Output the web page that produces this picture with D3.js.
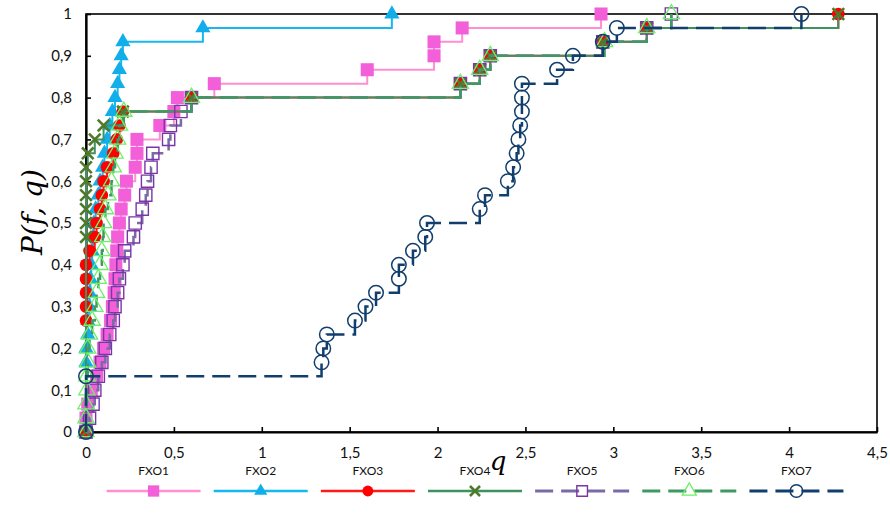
<!DOCTYPE html>
<html>
<head>
<meta charset="utf-8">
<script src="https://cdn.jsdelivr.net/npm/d3@7"></script>
<style>
  body { margin: 0; background: #fff; }
  svg { display: block; }
</style>
</head>
<body>
<svg id="chart" width="890" height="522"></svg>
<script>
// Performance profiles P(f, q) of seven solvers over 30 test problems.
const seriesNames = ["FXO1", "FXO2", "FXO3", "FXO4", "FXO5", "FXO6", "FXO7"];
const problemCount = 30;
const xTicks = [0, 0.5, 1, 1.5, 2, 2.5, 3, 3.5, 4, 4.5];
const yTicks = [0, 0.1, 0.2, 0.3, 0.4, 0.5, 0.6, 0.7, 0.8, 0.9, 1];

// Each point: [q, number of problems solved within factor q]
const fxo1 = [[0,0],[0,1],[0.01,2],[0.03,3],[0.06,4],[0.08,5],[0.10,6],[0.12,7],[0.14,8],[0.15,9],
  [0.16,10],[0.165,11],[0.17,12],[0.175,13],[0.18,14],[0.19,15],[0.20,16],[0.22,17],[0.23,18],[0.28,19],
  [0.29,20],[0.29,21],[0.42,22],[0.50,23],[0.52,24],[0.73,25],[1.60,26],[1.98,27],[1.98,28],[2.14,29],[2.93,30]];
const fxo2 = [[0,0],[0,5],[0,6],[0.01,7],[0.01,8],[0.02,9],[0.02,10],[0.025,11],[0.03,12],[0.035,13],
  [0.04,14],[0.045,15],[0.055,16],[0.07,17],[0.08,18],[0.095,19],[0.105,20],[0.12,21],[0.135,22],[0.15,23],
  [0.165,24],[0.18,25],[0.19,26],[0.20,27],[0.21,28],[0.665,29],[1.74,30]];
const fxo3 = [[0,0],[0,8],[0,9],[0,10],[0,11],[0,12],[0.02,13],[0.05,14],[0.06,15],[0.08,16],
  [0.09,17],[0.10,18],[0.12,19],[0.155,20],[0.175,21],[0.19,22],[0.21,23],[0.60,24],[2.13,25],[2.24,26],
  [2.30,27],[2.94,28],[3.19,29],[4.28,30]];
const fxo4 = [[0,0],[0,14],[0,15],[0,16],[0,17],[0,18],[0,19],[0.01,20],[0.05,21],[0.10,22],
  [0.21,23],[0.60,24],[2.13,25],[2.24,26],[2.30,27],[2.94,28],[3.19,29],[4.28,30]];
const fxo5 = [[0,0],[0.02,1],[0.04,2],[0.05,3],[0.07,4],[0.09,5],[0.11,6],[0.135,7],[0.155,8],[0.165,9],
  [0.18,10],[0.19,11],[0.21,12],[0.22,13],[0.27,14],[0.28,15],[0.32,16],[0.34,17],[0.35,18],[0.37,19],
  [0.38,20],[0.47,21],[0.48,22],[0.54,23],[0.60,24],[2.13,25],[2.24,26],[2.30,27],[2.94,28],[3.19,29],[3.33,30]];
const fxo6 = [[0,0],[0,1],[0,2],[0.005,3],[0.005,4],[0.01,5],[0.01,6],[0.02,7],[0.035,8],[0.05,9],
  [0.06,10],[0.07,11],[0.08,12],[0.09,13],[0.095,14],[0.10,15],[0.11,16],[0.125,17],[0.145,18],[0.155,19],
  [0.165,20],[0.18,21],[0.19,22],[0.215,23],[0.60,24],[2.13,25],[2.24,26],[2.30,27],[2.95,28],[3.19,29],[3.33,30]];
const fxo7 = [[0,0],[0,4],[1.34,5],[1.35,6],[1.37,7],[1.53,8],[1.59,9],[1.65,10],[1.78,11],[1.78,12],
  [1.86,13],[1.93,14],[1.94,15],[2.24,16],[2.27,17],[2.40,18],[2.43,19],[2.45,20],[2.46,21],[2.47,22],
  [2.48,23],[2.48,24],[2.48,25],[2.68,26],[2.77,27],[2.94,28],[3.02,29],[4.07,30]];

const seriesData = [fxo1, fxo2, fxo3, fxo4, fxo5, fxo6, fxo7];

const styles = [
  { line: "#ff8fd2", width: 2,   dash: null,   shape: d3.symbolSquare,   size: 170, fill: "#f25fd8", stroke: "none",    sw: 0 },
  { line: "#16b8ee", width: 2,   dash: null,   shape: d3.symbolTriangle, size: 100, fill: "#12aeea", stroke: "none",    sw: 0 },
  { line: "#ff1a1a", width: 2,   dash: null,   shape: d3.symbolCircle,   size: 125, fill: "#ff0000", stroke: "none",    sw: 0 },
  { line: "#3e9160", width: 2,   dash: null,   shape: d3.symbolX,        size: 90,  fill: "none",    stroke: "#4f7a2c", sw: 2.6 },
  { line: "#7a6aa6", width: 2.5, dash: "18,8", shape: d3.symbolSquare,   size: 150, fill: "none",    stroke: "#7a35a8", sw: 1.4 },
  { line: "#3f9a62", width: 2.5, dash: "18,8", shape: d3.symbolTriangle, size: 115, fill: "none",    stroke: "#6ef06a", sw: 1.3 },
  { line: "#123e6e", width: 2.5, dash: "18,8", shape: d3.symbolCircle,   size: 165, fill: "none",    stroke: "#123e6e", sw: 1.5 }
];

const svg = d3.select("#chart");
const x = d3.scaleLinear().domain([0, 4.5]).range([86, 877]);
const y = d3.scaleLinear().domain([0, 1]).range([432, 14]);

const locale = d3.formatLocale({ decimal: ",", thousands: ".", grouping: [3], currency: ["", "€"] });
const fmt = locale.format("~g");

// Plot frame
svg.append("rect")
  .attr("x", x(0)).attr("y", y(1))
  .attr("width", x(4.5) - x(0)).attr("height", y(0) - y(1))
  .attr("fill", "none").attr("stroke", "#000").attr("stroke-width", 1.6);

// Axes with inward ticks
const gx = svg.append("g").attr("transform", `translate(0,${y(0)})`)
  .call(d3.axisBottom(x).tickValues(xTicks).tickFormat(fmt).tickSizeInner(-5).tickSizeOuter(0).tickPadding(15));
const gy = svg.append("g").attr("transform", `translate(${x(0)},0)`)
  .call(d3.axisLeft(y).tickValues(yTicks).tickFormat(fmt).tickSizeInner(-5).tickSizeOuter(0).tickPadding(14));
[gx, gy].forEach(g => {
  g.select(".domain").attr("stroke", "#000").attr("stroke-width", 2.2);
  g.selectAll(".tick line").attr("stroke", "#000").attr("stroke-width", 1.6);
  g.selectAll(".tick text").attr("font-family", "Lato, 'Open Sans', sans-serif")
    .attr("font-size", 15).attr("fill", "#111");
});

// Series: step lines then markers
const line = d3.line()
  .x(d => x(d[0]))
  .y(d => y(d[1] / problemCount))
  .curve(d3.curveStepAfter);

seriesData.forEach((data, i) => {
  const s = styles[i];
  const g = svg.append("g").attr("class", "series " + seriesNames[i]);
  g.append("path")
    .datum(data)
    .attr("d", line)
    .attr("fill", "none")
    .attr("stroke", s.line)
    .attr("stroke-width", s.width)
    .attr("stroke-dasharray", s.dash);
  g.selectAll("path.marker")
    .data(data)
    .join("path")
    .attr("class", "marker")
    .attr("transform", d => `translate(${x(d[0])},${y(d[1] / problemCount)})`)
    .attr("d", d3.symbol(s.shape, s.size))
    .attr("fill", s.fill)
    .attr("stroke", s.stroke)
    .attr("stroke-width", s.sw);
});

// Axis titles
svg.append("text")
  .attr("x", 498).attr("y", 470)
  .attr("text-anchor", "middle")
  .attr("font-family", "'DejaVu Serif', 'Liberation Serif', serif")
  .attr("font-style", "italic")
  .attr("font-size", 26)
  .text("q");

svg.append("text")
  .attr("transform", "translate(42,212) rotate(-90)")
  .attr("text-anchor", "middle")
  .attr("font-family", "'DejaVu Serif', 'Liberation Serif', serif")
  .attr("font-style", "italic")
  .attr("font-size", 28)
  .text("P(f, q)");

// Legend
const legendX = d3.scaleBand().domain(seriesNames).range([100, 850]);
const legend = svg.append("g").attr("class", "legend");
seriesNames.forEach((name, i) => {
  const s = styles[i];
  const cx = legendX(name) + legendX.bandwidth() / 2;
  const item = legend.append("g").attr("transform", `translate(${cx},0)`);
  item.append("text")
    .attr("x", 0).attr("y", 475)
    .attr("text-anchor", "middle")
    .attr("font-family", "Lato, 'Open Sans', sans-serif")
    .attr("font-size", 12)
    .attr("fill", "#111")
    .text(name);
  item.append("line")
    .attr("x1", -47).attr("x2", 47)
    .attr("y1", 491).attr("y2", 491)
    .attr("stroke", s.line)
    .attr("stroke-width", s.width + 0.5)
    .attr("stroke-dasharray", s.dash);
  item.append("path")
    .attr("transform", "translate(0,491)")
    .attr("d", d3.symbol(s.shape, s.size * 0.75))
    .attr("fill", s.fill)
    .attr("stroke", s.stroke)
    .attr("stroke-width", s.sw);
});
</script>
</body>
</html>
